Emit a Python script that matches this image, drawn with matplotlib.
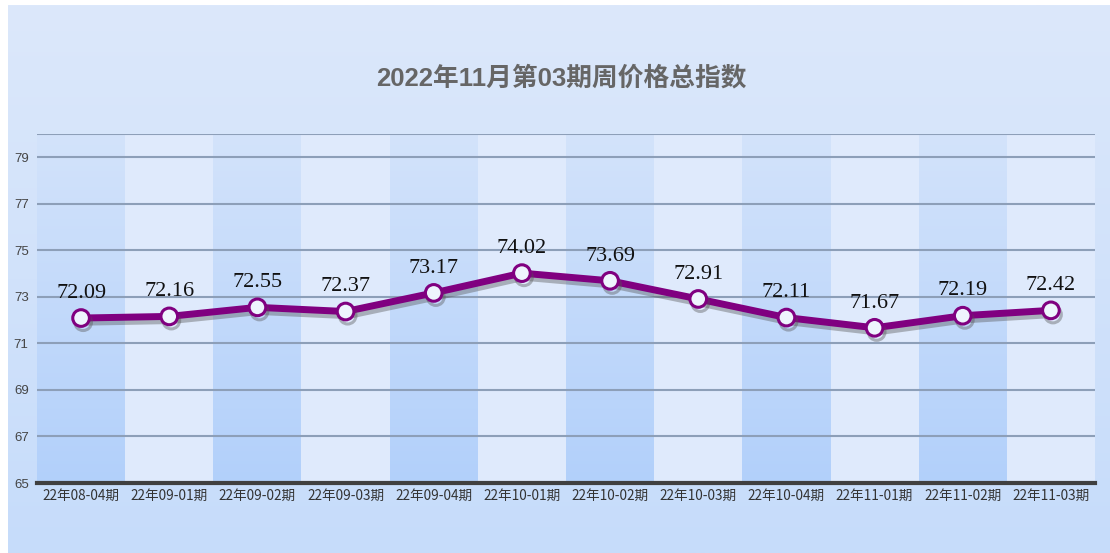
import numpy as np
import matplotlib.pyplot as plt
import matplotlib.patheffects as pe
from matplotlib.patches import Rectangle
from matplotlib.colors import LinearSegmentedColormap

periods = ["22年08-04期", "22年09-01期", "22年09-02期", "22年09-03期",
           "22年09-04期", "22年10-01期", "22年10-02期", "22年10-03期",
           "22年10-04期", "22年11-01期", "22年11-02期", "22年11-03期"]
index_values = [72.09, 72.16, 72.55, 72.37, 73.17, 74.02,
                73.69, 72.91, 72.11, 71.67, 72.19, 72.42]
y_ticks = [65, 67, 69, 71, 73, 75, 77, 79]

plt.rcParams['font.family'] = ['Noto Sans CJK SC', 'DejaVu Sans']

fig = plt.figure(figsize=(11.1, 5.53), dpi=100)
fig.patch.set_facecolor("white")

# fondo con degradado suave
bg = fig.add_axes([8 / 1110, 0, 1 - 8 / 1110, 1 - 5 / 553], zorder=-10)
grad = np.linspace(0, 1, 256).reshape(-1, 1)
bg_cmap = LinearSegmentedColormap.from_list("bg", ["#dce8fb", "#c6dcfa"])
bg.imshow(grad, aspect="auto", cmap=bg_cmap, extent=[0, 1, 0, 1], origin="upper")
bg.axis("off")

left, right, top, bottom = 37, 1095, 134, 483
ax = fig.add_axes([left / 1110, 1 - bottom / 553,
                   (right - left) / 1110, (bottom - top) / 553])
ax.set_facecolor("none")

n = len(periods)
x = np.arange(n)

# franjas alternas
dark_cmap = LinearSegmentedColormap.from_list("dk", ["#d3e3fb", "#b2d0fa"])
for i in range(n):
    if i % 2 == 0:
        ax.imshow(grad, aspect="auto", cmap=dark_cmap, origin="upper",
                  extent=[i - 0.5, i + 0.5, 65, 80], zorder=0)
    else:
        ax.add_patch(Rectangle((i - 0.5, 65), 1, 15, facecolor="#dfeafc",
                               edgecolor="none", zorder=0))
ax.set_xlim(-0.5, n - 0.5)
ax.set_ylim(65, 80)

for yv in y_ticks[1:] + [80]:
    ax.axhline(yv, color="#8d9fb8", lw=1.5, zorder=1)

ax.plot(x, index_values, color="#800080", lw=5, zorder=3,
        marker="o", markersize=12, markerfacecolor="#eef4fd",
        markeredgecolor="#800080", markeredgewidth=2.2,
        path_effects=[pe.SimpleLineShadow(offset=(1.5, -3), shadow_color="#555555", alpha=0.4),
                      pe.Normal()])

for xi, v in zip(x, index_values):
    ax.annotate(f"{v:.2f}", (xi, v), xytext=(0, 11), textcoords="offset points",
                ha="center", va="bottom", fontsize=16, color="#111111",
                family=["Liberation Serif", "DejaVu Serif"], zorder=4)

for s in ["top", "right", "left"]:
    ax.spines[s].set_visible(False)
ax.spines["bottom"].set_color("#404040")
ax.spines["bottom"].set_linewidth(3)
ax.spines["bottom"].set_zorder(5)

ax.set_yticks(y_ticks)
ax.set_yticklabels([str(t) for t in y_ticks], fontsize=9.5, color="#444444",
                   family=["Liberation Sans", "DejaVu Sans"])
ax.tick_params(axis="y", length=0, pad=6)
ax.set_xticks(x)
ax.set_xticklabels(periods, fontsize=9.8, color="#333333")
ax.tick_params(axis="x", length=0, pad=4)

fig.text(561 / 1110, 1 - 78 / 553, "2022年11月第03期周价格总指数",
         ha="center", va="center", fontsize=18.5, color="#666666", fontweight="bold",
         family=["Liberation Sans", "Noto Sans CJK SC"])

fig.savefig("out.png", dpi=100)
